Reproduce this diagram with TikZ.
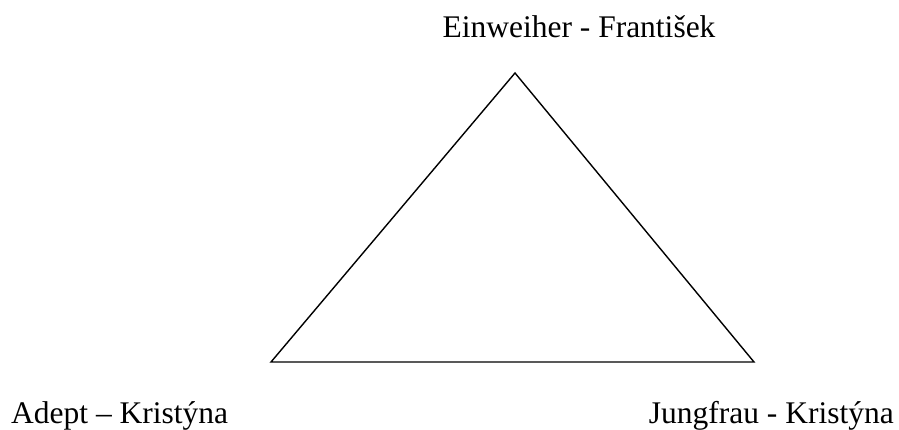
\documentclass[tikz,border=0pt]{standalone}
\usepackage{fontspec}
\setmainfont{Liberation Serif}
\begin{document}
\begin{tikzpicture}[x=1pt,y=-1pt,
  lbl/.style={inner sep=0pt,font=\fontsize{31.5}{36}\selectfont},
  edge/.style={draw=black,line width=1.4pt,line join=miter}]
\useasboundingbox (0,0) rectangle (899,430);
\coordinate (top) at (515,73);
\coordinate (bl) at (271,362);
\coordinate (br) at (754,362);
\draw[edge] (top) -- (bl) -- (br) -- cycle;
\node[lbl,anchor=base] (t) at (579,38) {Einweiher - František};
\node[lbl,anchor=base west] (l) at (11,423) {Adept – Kristýna};
\node[lbl,anchor=base east] (r) at (894,423) {Jungfrau - Kristýna};
\end{tikzpicture}
\end{document}
